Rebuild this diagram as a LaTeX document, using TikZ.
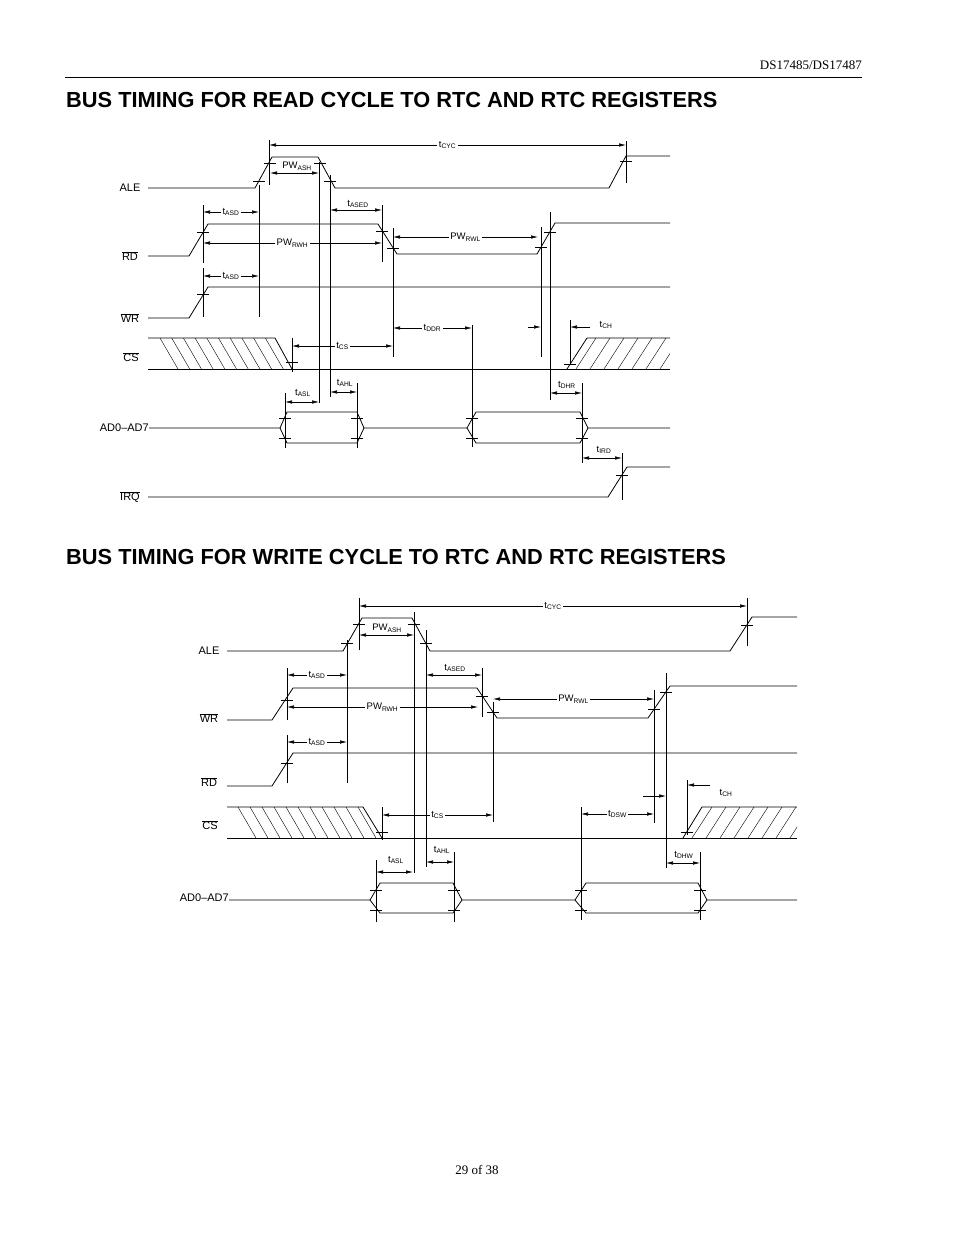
\documentclass[tikz,border=0pt]{standalone}
\usepackage{fontspec}
\setmainfont{Liberation Serif}
\newfontfamily\arial{Liberation Sans}
\usetikzlibrary{arrows.meta}
\newcommand\tk[2]{\draw[thin] (#1,#2) ++(-6,0) -- ++(12,0);}
\begin{document}
\begin{tikzpicture}[x=1pt,y=-1pt,
  sig/.style={line width=0.8pt},
  vl/.style={line width=0.6pt},
  dim/.style={line width=0.6pt,{Latex[length=7pt,width=3.5pt]}-{Latex[length=7pt,width=3.5pt]}},
  rdim/.style={line width=0.6pt,-{Latex[length=7pt,width=3.5pt]}},
  lab/.style={font=\arial\fontsize{9.5}{11}\selectfont,fill=white,inner sep=1.5pt},
  sname/.style={font=\arial\fontsize{11}{13}\selectfont,inner sep=0pt}]
\useasboundingbox (0,0) rectangle (954,1235);
% header
\node[anchor=base east,font=\fontsize{13}{15}\selectfont,inner sep=0] (hdr) at (862,69) {DS17485/DS17487};
\draw[line width=0.8pt] (65,77) -- (862,77);
\node[anchor=base west,font=\arial\bfseries\fontsize{21.8}{24}\selectfont,inner sep=0] (t1) at (66,107) {BUS TIMING FOR READ CYCLE TO RTC AND RTC REGISTERS};
\node[anchor=base west,font=\arial\bfseries\fontsize{21.8}{24}\selectfont,inner sep=0] (t2) at (66,564) {BUS TIMING FOR WRITE CYCLE TO RTC AND RTC REGISTERS};
\node[anchor=base,font=\fontsize{13}{15}\selectfont,inner sep=0] (pg) at (477,1174) {29 of 38};

%%%%%%%%%%%%%%%% TOP DIAGRAM
\node[sname] (a1) at (130,188) {ALE};
\node[sname] (a2) at (130,256) {$\overline{\mbox{RD}}$};
\node[sname] (a3) at (130,318) {$\overline{\mbox{WR}}$};
\node[sname] (a4) at (131,357) {$\overline{\mbox{CS}}$};
\node[sname,anchor=east] (a5) at (149,428) {AD0–AD7};
\node[sname] (a6) at (130,497) {$\overline{\mbox{IRQ}}$};
\draw[sig] (148,188) -- (255,188) -- (272,157) -- (318,157) -- (335,188) -- (609,188) -- (626,156) -- (670,156);
\draw[sig] (148,256) -- (189,256) -- (208,224) -- (378,224) -- (397,254) -- (537,254) -- (555,223) -- (670,223);
\draw[sig] (148,318) -- (189,318) -- (208,287) -- (670,287);
\draw[sig] (148,369) -- (670,369);
\draw[sig] (148,338) -- (275,338) -- (292,369);
\draw[sig] (567,369) -- (587,338) -- (670,338);
\begin{scope}
\clip (148,338) -- (275,338) -- (292,369) -- (148,369) -- cycle;
\foreach \x in {160,171.7,...,300} \draw[thin] (\x,338) -- (\x+18,369);
\end{scope}
\begin{scope}
\clip (567,369) -- (587,338) -- (670,338) -- (670,369) -- cycle;
\foreach \x in {596,610,...,700} \draw[thin] (\x,338) -- (\x-20,369);
\end{scope}
\draw[sig] (149,428) -- (280,428) -- (287,412) -- (357,412) -- (364,428) -- (467,428) -- (476,412) -- (580,412) -- (588,428) -- (670,428);
\draw[sig] (280,428) -- (287,443) -- (357,443) -- (364,428);
\draw[sig] (467,428) -- (476,443) -- (580,443) -- (588,428);
\draw[sig] (148,497) -- (608,497) -- (627,467) -- (670,467);
\draw[vl] (269,140) -- (269,185);
\draw[vl] (626,141) -- (626,183);
\draw[vl] (319,162) -- (319,403);
\draw[vl] (330,175) -- (330,397);
\draw[vl] (259,185) -- (259,317);
\draw[vl] (203,205) -- (203,263);
\draw[vl] (203,268) -- (203,317);
\draw[vl] (382,205) -- (382,262);
\draw[vl] (393,228) -- (393,357);
\draw[vl] (541,227) -- (541,357);
\draw[vl] (550,212) -- (550,400);
\draw[vl] (582,383) -- (582,463);
\draw[vl] (622,453) -- (622,500);
\draw[vl] (472,325) -- (472,447);
\draw[vl] (292,338) -- (292,372);
\draw[vl] (570,320) -- (570,363);
\draw[vl] (285,393) -- (285,448);
\draw[vl] (357,383) -- (357,448);
\draw[dim] (269,145) -- node[lab] {t\textsubscript{CYC}} (626,145);
\draw[dim] (270,173) -- (319,173); \node[lab,fill=none] at (297,166) {PW\textsubscript{ASH}};
\draw[dim] (203,212) -- node[lab] {t\textsubscript{ASD}} (259,212);
\draw[dim] (203,276) -- node[lab] {t\textsubscript{ASD}} (259,276);
\draw[dim] (203,243) -- node[lab] {PW\textsubscript{RWH}} (382,243);
\draw[dim] (330,210) -- (382,210); \node[lab,fill=none] at (358,204) {t\textsubscript{ASED}};
\draw[dim] (393,237) -- node[lab] {PW\textsubscript{RWL}} (538,237);
\draw[dim] (292,346) -- node[lab] {t\textsubscript{CS}} (393,346);
\draw[dim] (393,328) -- node[lab] {t\textsubscript{DDR}} (472,328);
\draw[rdim] (528,327) -- (541,327);
\draw[rdim] (590,327) -- (570,327); \node[lab,fill=none] at (606,325) {t\textsubscript{CH}};
\draw[dim] (550,393) -- (582,393); \node[lab,fill=none] at (567,385) {t\textsubscript{DHR}};
\draw[dim] (582,458) -- (622,458); \node[lab,fill=none] at (604,450) {t\textsubscript{IRD}};
\draw[dim] (285,402) -- (319,402); \node[lab,fill=none] at (303,393) {t\textsubscript{ASL}};
\draw[dim] (330,392) -- (357,392); \node[lab,fill=none] at (345,383) {t\textsubscript{AHL}};
\tk{259}{181}\tk{270}{163}\tk{320}{163}\tk{330}{181}\tk{626}{161}
\tk{203}{232}\tk{382}{231}\tk{393}{248}\tk{541}{247}\tk{550}{232}
\tk{203}{294}\tk{292}{362}\tk{570}{364}
\tk{285}{418}\tk{285}{438}\tk{357}{418}\tk{357}{438}
\tk{472}{418}\tk{472}{438}\tk{582}{418}\tk{582}{438}\tk{622}{475}

%%%%%%%%%%%%%%%% BOTTOM DIAGRAM
\node[sname] (b1) at (209,651) {ALE};
\node[sname] (b2) at (209,718) {$\overline{\mbox{WR}}$};
\node[sname] (b3) at (209,782) {$\overline{\mbox{RD}}$};
\node[sname] (b4) at (210,825) {$\overline{\mbox{CS}}$};
\node[sname,anchor=east] (b5) at (229,898) {AD0–AD7};
\draw[sig] (227,651) -- (343,651) -- (362,618) -- (412,618) -- (430,651) -- (730,651) -- (752,617) -- (797,617);
\draw[sig] (227,720) -- (272,720) -- (293,688) -- (477,688) -- (497,718) -- (648,718) -- (670,686) -- (797,686);
\draw[sig] (227,786) -- (272,786) -- (293,753) -- (797,753);
\draw[sig] (227,838) -- (797,838);
\draw[sig] (227,807) -- (363,807) -- (382,838);
\draw[sig] (683,838) -- (702,807) -- (797,807);
\begin{scope}
\clip (227,807) -- (363,807) -- (382,838) -- (227,838) -- cycle;
\foreach \x in {238,250,...,380} \draw[thin] (\x,807) -- (\x+18,838);
\end{scope}
\begin{scope}
\clip (683,838) -- (702,807) -- (797,807) -- (797,838) -- cycle;
\foreach \x in {712,726,...,830} \draw[thin] (\x,807) -- (\x-20,838);
\end{scope}
\draw[sig] (229,900) -- (370,900) -- (380,883) -- (453,883) -- (462,900) -- (575,900) -- (586,883) -- (698,883) -- (707,900) -- (797,900);
\draw[sig] (370,900) -- (380,913) -- (453,913) -- (462,900);
\draw[sig] (575,900) -- (586,913) -- (698,913) -- (707,900);
\draw[vl] (359,598) -- (359,650);
\draw[vl] (747,598) -- (747,646);
\draw[vl] (414,612) -- (414,873);
\draw[vl] (426,630) -- (426,867);
\draw[vl] (347,640) -- (347,783);
\draw[vl] (287,668) -- (287,720);
\draw[vl] (287,735) -- (287,783);
\draw[vl] (482,668) -- (482,717);
\draw[vl] (493,702) -- (493,822);
\draw[vl] (654,690) -- (654,823);
\draw[vl] (666,673) -- (666,868);
\draw[vl] (700,852) -- (700,920);
\draw[vl] (581,807) -- (581,920);
\draw[vl] (382,807) -- (382,840);
\draw[vl] (687,780) -- (687,835);
\draw[vl] (376,860) -- (376,922);
\draw[vl] (454,852) -- (454,922);
\draw[dim] (359,606) -- node[lab] {t\textsubscript{CYC}} (747,606);
\draw[dim] (359,635) -- (414,635); \node[lab,fill=none] at (387,628) {PW\textsubscript{ASH}};
\draw[dim] (287,675) -- node[lab] {t\textsubscript{ASD}} (347,675);
\draw[dim] (287,742) -- node[lab] {t\textsubscript{ASD}} (347,742);
\draw[dim] (287,707) -- node[lab] {PW\textsubscript{RWH}} (478,707);
\draw[dim] (426,675) -- (482,675); \node[lab,fill=none] at (455,668) {t\textsubscript{ASED}};
\draw[dim] (493,699) -- node[lab] {PW\textsubscript{RWL}} (654,699);
\draw[dim] (382,815) -- node[lab] {t\textsubscript{CS}} (493,815);
\draw[dim] (581,814) -- node[lab] {t\textsubscript{DSW}} (654,814);
\draw[rdim] (643,796) -- (666,796);
\draw[rdim] (710,785) -- (687,785); \node[lab,fill=none] at (726,793) {t\textsubscript{CH}};
\draw[dim] (666,863) -- (700,863); \node[lab,fill=none] at (684,855) {t\textsubscript{DHW}};
\draw[dim] (376,872) -- (413,872); \node[lab,fill=none] at (396,860) {t\textsubscript{ASL}};
\draw[dim] (426,862) -- (454,862); \node[lab,fill=none] at (442,850) {t\textsubscript{AHL}};
\tk{347}{643}\tk{359}{624}\tk{414}{624}\tk{426}{643}\tk{747}{625}
\tk{287}{700}\tk{482}{696}\tk{493}{712}\tk{654}{709}\tk{666}{692}
\tk{287}{763}\tk{382}{832}\tk{687}{832}
\tk{376}{890}\tk{376}{910}\tk{454}{890}\tk{454}{910}
\tk{581}{890}\tk{581}{910}\tk{700}{890}\tk{700}{910}
\end{tikzpicture}
\end{document}
